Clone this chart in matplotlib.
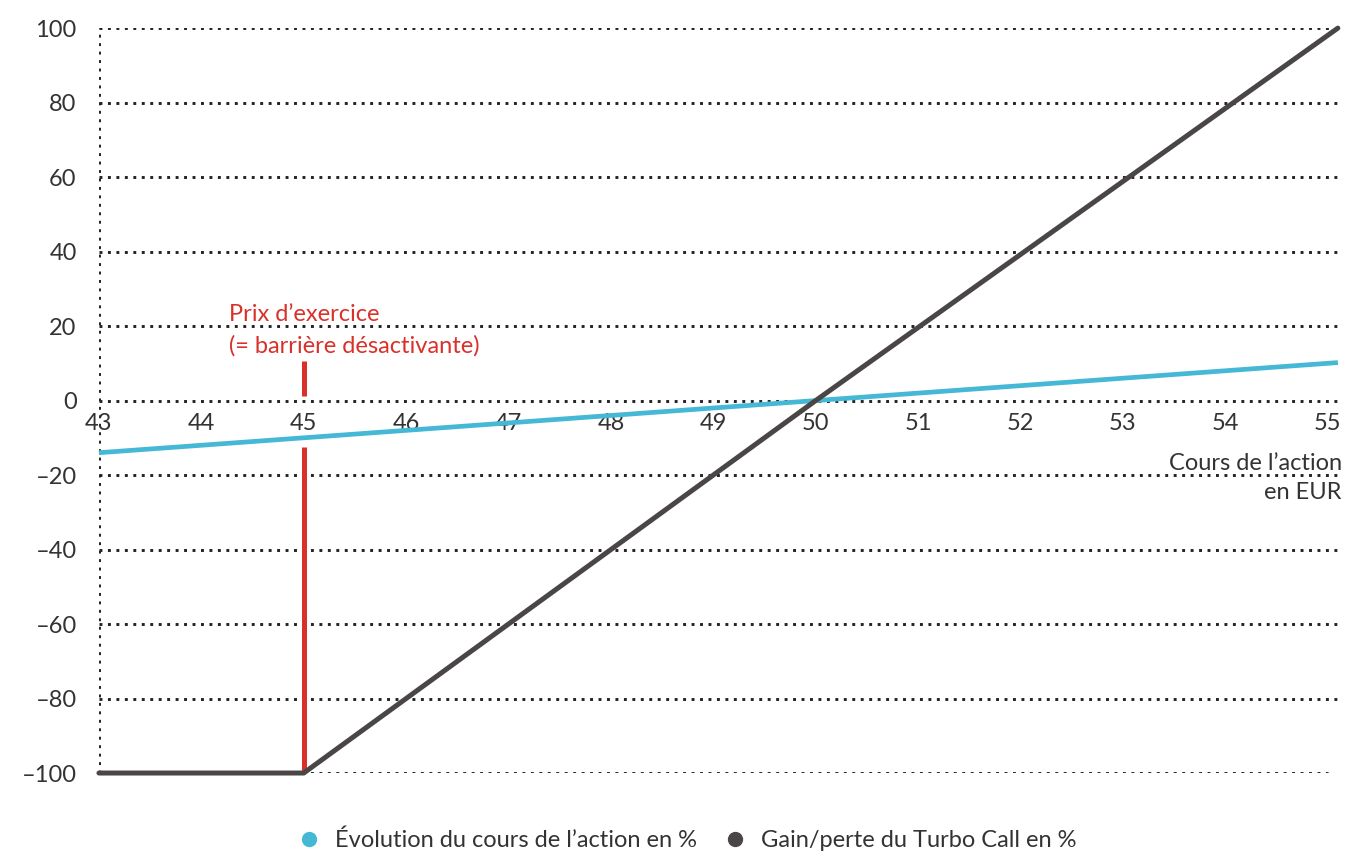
import matplotlib
matplotlib.use("Agg")
import matplotlib.pyplot as plt
from matplotlib.lines import Line2D

plt.rcParams['font.family'] = ['Lato', 'DejaVu Sans']

# Data
price = [43, 45, 50, 55.1]
stock_change = [-14, -10, 0, 10.2]
turbo_pnl = [-100, -100, 0, 100]
strike = 45
x_ticks = [43, 44, 45, 46, 47, 48, 49, 50, 51, 52, 53, 54, 55]
y_ticks = [-100, -80, -60, -40, -20, 0, 20, 40, 60, 80, 100]
y_tick_labels = ['–100', '–80', '–60', '–40', '–20', '0', '20', '40', '60', '80', '100']
red_segments = [(-100, -12.5), (1.3, 10.5)]

BLUE = '#45b8d6'
DARK = '#4a4646'
RED = '#d9312a'
TXT = '#333333'
FS = 17

fig = plt.figure(figsize=(13.48, 8.52), dpi=100)
ax = fig.add_axes([0.0734, 0.0927, 0.9206, 0.8743])
ax.set_xlim(43, 55.12)
ax.set_ylim(-100, 100)

# dotted grid
DOTS = (0, (1, 1.9))
for y in y_ticks:
    ax.axhline(y, color='#222222', lw=2.1, ls=DOTS, zorder=1,
               xmax=0.99 if y == -100 else 1)
ax.axvline(43, color='#222222', lw=2.1, ls=DOTS, zorder=1)

for sp in ax.spines.values():
    sp.set_visible(False)
ax.spines['bottom'].set_position(('data', 0))

# red barrier
for lo, hi in red_segments:
    ax.plot([strike, strike], [lo, hi], color=RED, lw=3.6, solid_capstyle='butt', zorder=3)

ax.plot(price, stock_change, color=BLUE, lw=3.4, zorder=4, clip_on=False, solid_capstyle='butt')
ax.plot(price, turbo_pnl, color=DARK, lw=3.6, zorder=5, clip_on=False, solid_capstyle='round')

ax.set_xticks(x_ticks)
ax.set_xticklabels([str(v) for v in x_ticks])
ax.set_yticks(y_ticks)
ax.set_yticklabels(y_tick_labels)
ax.tick_params(axis='both', length=0, labelsize=FS, labelcolor=TXT)
ax.tick_params(axis='x', pad=9)
ax.tick_params(axis='y', pad=16)

ax.text(44.27, 11.9, "Prix d’exercice\n(= barrière désactivante)", color=RED,
        fontsize=FS, ha='left', va='bottom', linespacing=1.55)
ax.text(55.14, -14.0, "Cours de l’action\nen EUR", color=TXT, fontsize=FS,
        ha='right', va='top', linespacing=1.5)

handles = [Line2D([], [], marker='o', ls='none', color=BLUE, markersize=10),
           Line2D([], [], marker='o', ls='none', color=DARK, markersize=10)]
labels = ['Évolution du cours de l’action en %', 'Gain/perte du Turbo Call en %']
fig.legend(handles, labels, loc='lower center', bbox_to_anchor=(0.505, -0.024), ncol=2,
           frameon=False, fontsize=FS, handletextpad=0.1, columnspacing=0.6,
           labelcolor=TXT)

fig.savefig('out.png', dpi=100)
